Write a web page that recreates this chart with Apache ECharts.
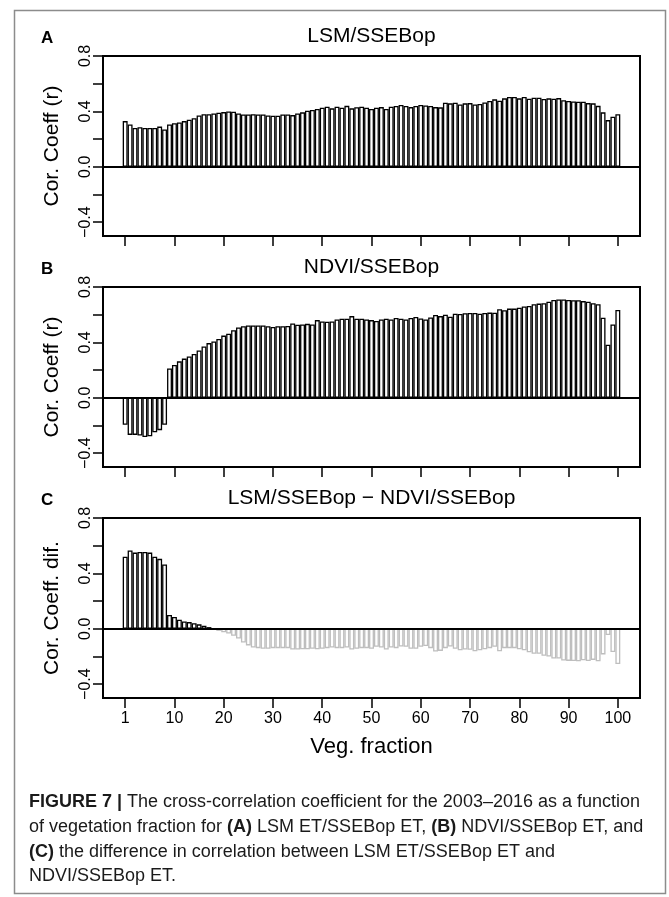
<!DOCTYPE html>
<html>
<head>
<meta charset="utf-8">
<script src="https://cdn.jsdelivr.net/npm/echarts@6/dist/echarts.min.js"></script>
<style>
  html, body { margin: 0; padding: 0; background: #fff; }
  #chart { width: 669px; height: 897px; }
</style>
</head>
<body>
<div id="chart"></div>
<script>
// veg. fraction bins, one bar each
const vegFraction = Array.from({ length: 101 }, (_, i) => String(i))
const tickPositions = ['0', '10', '20', '30', '40', '50', '60', '70', '80', '90', '100']
const tickLabels = ['1', '10', '20', '30', '40', '50', '60', '70', '80', '90', '100']
const yTicks = [-0.4, -0.2, 0, 0.2, 0.4, 0.6, 0.8]
const yLabels = [-0.4, 0, 0.4, 0.8]

const panelLetters = ['A', 'B', 'C']
const panelTitles = ['LSM/SSEBop', 'NDVI/SSEBop', 'LSM/SSEBop \u2212 NDVI/SSEBop']
const yNames = ['Cor. Coeff (r)', 'Cor. Coeff (r)', 'Cor. Coeff. dif.']

const lsmCorr = [
  0.33, 0.305, 0.28, 0.285, 0.28, 0.28, 0.28, 0.29, 0.27, 0.305,
  0.315, 0.32, 0.33, 0.34, 0.35, 0.37, 0.38, 0.38, 0.385, 0.39,
  0.395, 0.4, 0.398, 0.385, 0.378, 0.378, 0.38, 0.378, 0.378, 0.37,
  0.368, 0.368, 0.378, 0.378, 0.373, 0.385, 0.393, 0.405, 0.41, 0.417,
  0.427, 0.434, 0.422, 0.434, 0.427, 0.44, 0.422, 0.43, 0.434, 0.427,
  0.417, 0.427, 0.431, 0.417, 0.434, 0.439, 0.446, 0.439, 0.431, 0.439,
  0.446, 0.443, 0.439, 0.431, 0.429, 0.463, 0.458, 0.463, 0.45, 0.458,
  0.46, 0.45, 0.453, 0.465, 0.475, 0.487, 0.477, 0.494, 0.504, 0.504,
  0.494, 0.504, 0.492, 0.499, 0.499, 0.489, 0.494, 0.492, 0.496, 0.48,
  0.475, 0.472, 0.47, 0.47, 0.46, 0.458, 0.44, 0.393, 0.337, 0.361,
  0.38
]

const ndviCorr = [
  -0.195, -0.268, -0.268, -0.273, -0.283, -0.278, -0.249, -0.234, -0.195, 0.212,
  0.237, 0.263, 0.283, 0.298, 0.317, 0.341, 0.371, 0.395, 0.407, 0.424,
  0.449, 0.463, 0.488, 0.507, 0.517, 0.522, 0.522, 0.522, 0.522, 0.517,
  0.512, 0.517, 0.517, 0.519, 0.537, 0.527, 0.529, 0.534, 0.529, 0.561,
  0.551, 0.549, 0.551, 0.566, 0.571, 0.571, 0.59, 0.571, 0.571, 0.566,
  0.561, 0.554, 0.566, 0.571, 0.566, 0.576, 0.571, 0.566, 0.576, 0.583,
  0.573, 0.566, 0.58, 0.598, 0.59, 0.6, 0.585, 0.607, 0.605, 0.61,
  0.612, 0.612, 0.607, 0.612, 0.615, 0.614, 0.639, 0.632, 0.644, 0.644,
  0.651, 0.659, 0.663, 0.676, 0.68, 0.683, 0.693, 0.707, 0.71, 0.71,
  0.707, 0.705, 0.705, 0.698, 0.693, 0.683, 0.676, 0.578, 0.383, 0.529,
  0.634
]

const corrDiff = [
  0.52, 0.565, 0.55, 0.555, 0.555, 0.55, 0.52, 0.505, 0.465, 0.1,
  0.085, 0.065, 0.053, 0.048, 0.04, 0.032, 0.022, 0.012, -0.006, -0.015,
  -0.025, -0.035, -0.05, -0.07, -0.1, -0.12, -0.135, -0.14, -0.145, -0.145,
  -0.14, -0.14, -0.14, -0.14, -0.15, -0.15, -0.148, -0.148, -0.145, -0.148,
  -0.145, -0.14, -0.135, -0.14, -0.14, -0.135, -0.15, -0.145, -0.14, -0.14,
  -0.145, -0.13, -0.135, -0.15, -0.135, -0.14, -0.128, -0.13, -0.145, -0.145,
  -0.13, -0.125, -0.14, -0.165, -0.16, -0.14, -0.128, -0.145, -0.155, -0.15,
  -0.152, -0.162, -0.155, -0.148, -0.14, -0.13, -0.162, -0.14, -0.14, -0.14,
  -0.148, -0.155, -0.17, -0.18, -0.18, -0.195, -0.2, -0.215, -0.215, -0.23,
  -0.232, -0.233, -0.235, -0.228, -0.233, -0.225, -0.235, -0.185, -0.045, -0.168,
  -0.254
]

const FONT = "'Liberation Sans', Arial, sans-serif"
const CAPTION_FONT = "'Liberation Sans Narrow', " + FONT
const PAD = 4
const padL = Array.from({ length: PAD }, (_, i) => 'padL' + i)
const padR = Array.from({ length: PAD }, (_, i) => 'padR' + i)
const categories = padL.concat(vegFraction, padR)
const blanks = padL.map(() => '-')

const gridTops = [56, 287, 518]
const gridH = 180
const boxLeft = 103
const boxW = 537
const centerX = boxLeft + boxW / 2

const chart = echarts.init(document.getElementById('chart'))

const isTick = (idx, val) => tickPositions.indexOf(val) >= 0

function barData(values, gray) {
  return blanks.concat(values.map(v => ({
    value: v,
    itemStyle: { borderColor: gray && v < 0 ? '#bebebe' : '#000' }
  })), blanks)
}

const seriesValues = [lsmCorr, ndviCorr, corrDiff]

chart.setOption({
  animation: false,
  grid: gridTops.map(top => ({
    left: boxLeft,
    top: top,
    width: boxW,
    height: gridH,
    show: true,
    borderColor: '#000',
    borderWidth: 2,
    backgroundColor: 'transparent'
  })),
  xAxis: gridTops.map((_, i) => ({
    gridIndex: i,
    type: 'category',
    data: categories,
    boundaryGap: true,
    axisLine: { show: false, onZero: false },
    axisTick: {
      show: true,
      alignWithLabel: true,
      interval: isTick,
      length: 10,
      lineStyle: { color: '#000', width: 1.5 }
    },
    axisLabel: {
      show: i === 2,
      interval: isTick,
      margin: 13,
      fontSize: 16,
      fontFamily: FONT,
      color: '#000',
      formatter: v => tickLabels[tickPositions.indexOf(v)]
    },
    splitLine: { show: false },
    name: i === 2 ? 'Veg. fraction' : '',
    nameLocation: 'middle',
    nameGap: 38,
    nameTextStyle: { fontSize: 22, fontFamily: FONT, color: '#000' }
  })),
  yAxis: gridTops.map((_, i) => ({
    gridIndex: i,
    type: 'value',
    min: -0.5,
    max: 0.8,
    axisLine: { show: true, lineStyle: { color: '#000', width: 2 } },
    axisTick: {
      show: true,
      length: 10,
      customValues: yTicks,
      lineStyle: { color: '#000', width: 1.5 }
    },
    axisLabel: {
      customValues: yLabels,
      rotate: 90,
      margin: 9,
      fontSize: 16,
      fontFamily: FONT,
      color: '#000',
      formatter: v => v.toFixed(1).replace('-', '\u2212')
    },
    splitLine: { show: false },
    name: yNames[i],
    nameLocation: 'middle',
    nameRotate: 90,
    nameGap: 40,
    nameTextStyle: { fontSize: 21, fontFamily: FONT, color: '#000' }
  })),
  series: seriesValues.map((vals, i) => ({
    type: 'bar',
    xAxisIndex: i,
    yAxisIndex: i,
    data: barData(vals, i === 2),
    barCategoryGap: '0%',
    silent: true,
    itemStyle: { color: '#fff', borderColor: '#000', borderWidth: 1.3 },
    markLine: {
      silent: true,
      symbol: 'none',
      label: { show: false },
      lineStyle: { color: '#000', type: 'solid', width: 2 },
      data: [{ yAxis: 0 }]
    }
  })),
  graphic: [
    {
      type: 'rect',
      shape: { x: 14.5, y: 10.5, width: 651, height: 883 },
      style: { fill: 'none', stroke: '#8c8c8c', lineWidth: 1.5 },
      silent: true
    },
    ...gridTops.map((top, i) => ({
      type: 'text',
      x: centerX,
      y: top - 9,
      style: {
        text: panelTitles[i],
        font: '21px ' + FONT,
        fill: '#000',
        textAlign: 'center',
        textVerticalAlign: 'bottom'
      }
    })),
    ...gridTops.map((top, i) => ({
      type: 'text',
      x: 41,
      y: top - 9,
      style: {
        text: panelLetters[i],
        font: 'bold 17px ' + FONT,
        fill: '#000',
        textAlign: 'left',
        textVerticalAlign: 'bottom'
      }
    })),
    {
      type: 'text',
      x: 29,
      y: 790,
      style: {
        text: [
          '{b|FIGURE 7 |} The cross-correlation coefficient for the 2003\u20132016 as a function',
          'of vegetation fraction for {b|(A)} LSM ET/SSEBop ET, {b|(B)} NDVI/SSEBop ET, and',
          '{b|(C)} the difference in correlation between LSM ET/SSEBop ET and',
          'NDVI/SSEBop ET.'
        ].join('\n'),
        font: '18px ' + CAPTION_FONT,
        fill: '#1a1a1a',
        lineHeight: 24.7,
        rich: {
          b: { fontWeight: 'bold', fontSize: 18, fontFamily: CAPTION_FONT, lineHeight: 24.7 }
        }
      }
    }
  ]
})
</script>
</body>
</html>
